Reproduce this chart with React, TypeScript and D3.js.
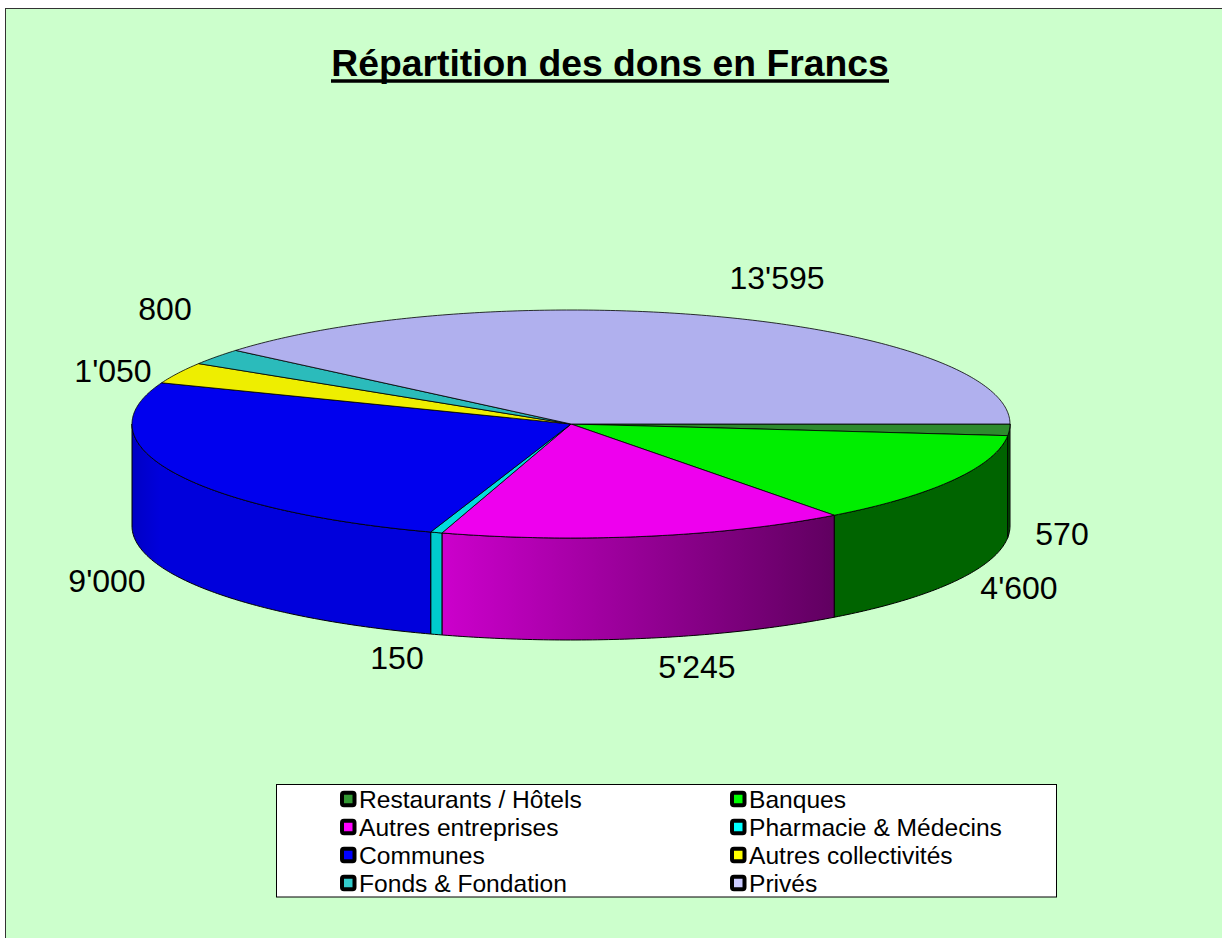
import React from "react";
import * as d3 from "d3";

const categories = ["Restaurants / Hôtels", "Banques", "Autres entreprises", "Pharmacie & Médecins", "Communes", "Autres collectivités", "Fonds & Fondation", "Privés"];
const values = [570, 4600, 5245, 150, 9000, 1050, 800, 13595];
const valueLabels = ["570", "4'600", "5'245", "150", "9'000", "1'050", "800", "13'595"];
const legendColors = ["#339933", "#00FF00", "#FF00FF", "#00FFFF", "#0000FF", "#FFFF00", "#33CCCC", "#CCCCFF"];
const topColors = ["#2E8B2E", "#00EE00", "#EE00EE", "#00DDDD", "#0000EE", "#EEEE00", "#2BBBBB", "#B0B0EE"];
const sideColors = ["#006400", "#006400", "url(#mag)", "#00CCCC", "url(#blu)", "#AAAA00", "#208888", "#8080B0"];
const labelCentres: [number, number][] = [[1062, 534], [1019, 588], [697, 667], [397, 658], [107, 581], [113, 371], [165, 309], [777, 278]];

const CX = 571, CY = 424, RX = 439, RY = 114, DEPTH = 102;
const FONT = "'Liberation Sans', Arial, sans-serif";

const pie = d3.pie<number>().sort(null).startAngle(0).endAngle(2 * Math.PI);
const arcs = pie(values);
const px = (t: number) => CX + RX * Math.cos(t);
const py = (t: number) => CY + RY * Math.sin(t);

function topPath(a0: number, a1: number) {
  const p = d3.path();
  p.moveTo(CX, CY);
  p.lineTo(px(a0), py(a0));
  const n = Math.max(2, Math.ceil((a1 - a0) * 80));
  d3.range(1, n + 1).forEach((i) => { const t = a0 + ((a1 - a0) * i) / n; p.lineTo(px(t), py(t)); });
  p.closePath();
  return p.toString();
}
function sidePath(a0: number, a1: number) {
  const b0 = Math.max(a0, 0), b1 = Math.min(a1, Math.PI);
  if (b1 <= b0) return null;
  const n = Math.max(2, Math.ceil((b1 - b0) * 80));
  const ts = d3.range(0, n + 1).map((i) => b0 + ((b1 - b0) * i) / n);
  const p = d3.path();
  ts.forEach((t, i) => (i ? p.lineTo(px(t), py(t)) : p.moveTo(px(t), py(t))));
  ts.slice().reverse().forEach((t) => p.lineTo(px(t), py(t) + DEPTH));
  p.closePath();
  return p.toString();
}

const LEG = { x: 276.5, y: 784.5, w: 780, h: 112.5, rowY: [799, 827, 855, 883], colX: [341, 731] };

export default function App() {
  return (
    <svg width={1222} height={938} style={{ position: "absolute", left: 0, top: 0 }}>
      <defs>
        <linearGradient id="mag" gradientUnits="userSpaceOnUse" x1={441} x2={835} y1={0} y2={0}>
          <stop offset="0" stopColor="#CC00CC" />
          <stop offset="1" stopColor="#600060" />
        </linearGradient>
        <linearGradient id="blu" gradientUnits="userSpaceOnUse" x1={132} x2={160} y1={0} y2={0}>
          <stop offset="0" stopColor="#0000C4" />
          <stop offset="1" stopColor="#0000DC" />
        </linearGradient>
      </defs>
      <rect width={1222} height={938} fill="#fff" />
      <rect x={5.5} y={8.5} width={1300} height={1000} fill="#CCFFCC" stroke="#333" strokeWidth={1} />
      <text x={610} y={76} textAnchor="middle" fontFamily={FONT} fontWeight="bold" fontSize={37.3} fill="#000">
        Répartition des dons en Francs
      </text>
      <line x1={331} x2={889} y1={81} y2={81} stroke="#000" strokeWidth={3.5} />
      {arcs.map((a, i) => {
        const d = sidePath(a.startAngle, a.endAngle);
        return d ? <path key={i} d={d} fill={sideColors[i]} stroke="#000" strokeWidth={1} strokeLinejoin="round" /> : null;
      })}
      {arcs.map((a, i) => (
        <path key={i} d={topPath(a.startAngle, a.endAngle)} fill={topColors[i]} stroke="#000" strokeWidth={0.8} strokeLinejoin="round" />
      ))}
      {valueLabels.map((t, i) => (
        <text key={i} x={labelCentres[i][0]} y={labelCentres[i][1] + 11} textAnchor="middle" fontFamily={FONT} fontSize={32} fill="#000">{t}</text>
      ))}
      <rect x={LEG.x} y={LEG.y} width={LEG.w} height={LEG.h} fill="#fff" stroke="#000" strokeWidth={1} />
      {categories.map((c, i) => {
        const x = LEG.colX[i % 2], y = LEG.rowY[Math.floor(i / 2)];
        return (
          <g key={i}>
            <rect x={x + 1} y={y - 6.25} width={12.5} height={12.5} rx={2} fill={legendColors[i]} stroke="#000" strokeWidth={4} />
            <text x={x + 18} y={y + 8.5} fontFamily={FONT} fontSize={24.6} fill="#000">{c}</text>
          </g>
        );
      })}
    </svg>
  );
}
